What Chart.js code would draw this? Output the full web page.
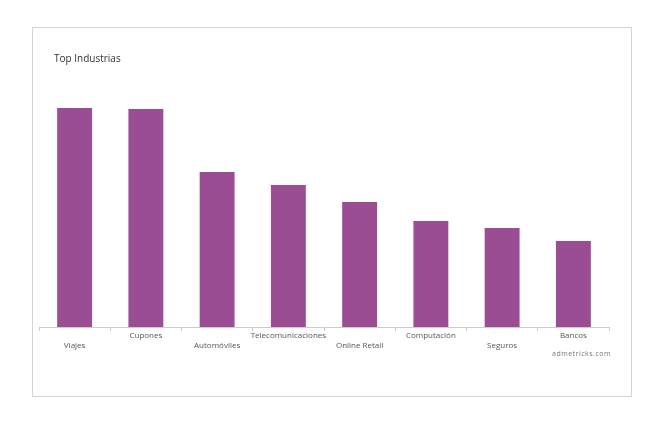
<!DOCTYPE html>
<html>
<head>
<meta charset="utf-8">
<script src="https://cdn.jsdelivr.net/npm/chart.js@4"></script>
<style>
  body { margin: 0; background: #fff; font-family: "Open Sans", sans-serif; }
  #box { position: absolute; left: 32px; top: 27px; width: 600px; height: 370px; border: 1px solid #d4d4d4; box-sizing: border-box; }
  #title { position: absolute; left: 21px; top: 23px; font-size: 10px; color: #333; }
  #mark { position: absolute; right: 20px; top: 321px; font-size: 7px; color: #777; letter-spacing: 0.5px; }
  canvas { position: absolute; left: 0; top: 0; }
</style>
</head>
<body>
<div id="box">
  <canvas id="chart" width="598" height="368"></canvas>
  <div id="title">Top Industrias</div>
  <div id="mark">admetricks.com</div>
</div>
<script>
// Industry categories and relative bar values
const industries = ['Viajes', 'Cupones', 'Automóviles', 'Telecomunicaciones', 'Online Retail', 'Computación', 'Seguros', 'Bancos'];
const values = [219, 218, 155, 142, 125, 106, 99, 86];

// Alternate labels between two rows like the original
const tickLabels = industries.map((name, i) => i % 2 === 0 ? ['', name] : [name]);

new Chart(document.getElementById('chart').getContext('2d'), {
    type: 'bar',
    data: {
        labels: tickLabels,
        datasets: [{
            data: values,
            backgroundColor: '#9b4d93',
            barPercentage: 0.98,
            categoryPercentage: 0.5
        }]
    },
    options: {
        responsive: false,
        animation: false,
        layout: { padding: { top: 59, left: 6, right: 22, bottom: 29 } },
        plugins: { legend: { display: false }, tooltip: { enabled: false } },
        scales: {
            x: {
                grid: { drawOnChartArea: false, tickLength: 4, color: '#ccc' },
                border: { color: '#ccc' },
                ticks: { color: '#555', font: { family: 'Open Sans', size: 8 }, maxRotation: 0, autoSkip: false, padding: 0 },
                afterFit: s => { s.height = 40; }
            },
            y: { display: false, min: 0, max: 240 }
        }
    }
});
</script>
</body>
</html>
